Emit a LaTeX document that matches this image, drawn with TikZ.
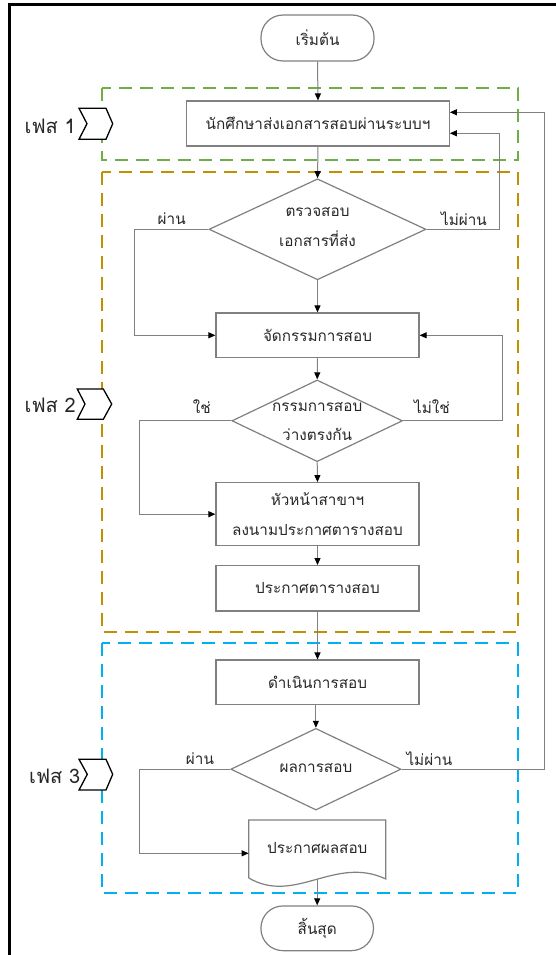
\documentclass[tikz,border=0pt]{standalone}
\usepackage{fontspec}
\newfontfamily\thai[Script=Thai]{Loma}
\usetikzlibrary{arrows.meta,shapes.geometric}
\definecolor{linegray}{RGB}{128,128,128}
\definecolor{txt}{RGB}{40,40,40}
\definecolor{phgreen}{RGB}{112,173,71}
\definecolor{phgold}{RGB}{191,144,0}
\definecolor{phblue}{RGB}{0,176,240}
\tikzset{
  base/.style={font=\thai\fontsize{15.3}{29.5}\selectfont, text=txt, align=center, inner sep=0pt},
  procbox/.style={base, draw=linegray, line width=1.2pt, rectangle},
  termbox/.style={procbox, rounded corners=22pt},
  decbox/.style={draw=linegray, line width=1.2pt, diamond, inner sep=0pt},
  conn/.style={draw=linegray, line width=1pt},
  arr/.style={conn, -{Triangle[length=7pt,width=6pt,fill=black,color=black]}},
  lbl/.style={base},
  phasebox/.style={dashed, dash pattern=on 13pt off 8pt, line width=2pt},
  chevron/.style={draw=black, fill=white, line width=1.3pt, line join=miter},
  phasetext/.style={font=\thai\fontsize{20}{22}\selectfont, text=black!85, anchor=east, inner sep=0pt}
}
\begin{document}
\begin{tikzpicture}[x=1pt,y=-1pt]
\useasboundingbox (0,0) rectangle (555,955);
\fill[white] (0,0) rectangle (555,955);
% outer frame
\draw[black, line width=3pt] (9,960) -- (9,5) -- (560,5);

% phase areas
\draw[phasebox, draw=phgreen] (102.3,88.3) rectangle (517.7,160);
\draw[phasebox, draw=phgold]  (102.3,171.7) rectangle (517.7,632.3);
\draw[phasebox, draw=phblue]  (102.3,643.3) rectangle (517.7,893.3);

% phase markers
\draw[chevron] (79,108.3) -- (106,108.3) -- (112.7,123.7) -- (106,139.3) -- (79,139.3) -- (87,123.7) -- cycle;
\draw[chevron] (77.3,389) -- (103.3,389) -- (111.7,404) -- (103.3,419.3) -- (77.3,419.3) -- (85,404) -- cycle;
\draw[chevron] (79,759.3) -- (106,759.3) -- (112.7,774.3) -- (106,790) -- (79,790) -- (87.3,774.3) -- cycle;
\node[phasetext] (ph1) at (76,126) {เฟส 1};
\node[phasetext] (ph2) at (76,405) {เฟส 2};
\node[phasetext] (ph3) at (80.5,776) {เฟส 3};

% flow nodes
\node[termbox, minimum width=113pt, minimum height=46pt] (start) at (317.5,38) {เริ่มต้น};
\node[procbox, minimum width=262.6pt, minimum height=45pt] (send) at (318,123.5) {นักศึกษาส่งเอกสารสอบผ่านระบบฯ};
\node[decbox, minimum width=217pt, minimum height=101pt] (chk) at (317.5,229.3) {};
\node[base] (chkt) at (317.5,227) {ตรวจสอบ\\เอกสารที่ส่ง};
\node[procbox, minimum width=203pt, minimum height=44.7pt] (assign) at (317.5,335.3) {จัดกรรมการสอบ};
\node[decbox, minimum width=170.6pt, minimum height=81.7pt] (free) at (317.2,420.8) {};
\node[base] (freet) at (317.2,421.7) {กรรมการสอบ\\ว่างตรงกัน};
\node[procbox, minimum width=203pt, minimum height=63pt] (sign) at (317.5,514.2) {หัวหน้าสาขาฯ\\ลงนามประกาศตารางสอบ};
\node[procbox, minimum width=203pt, minimum height=45.3pt] (sched) at (317.5,588.3) {ประกาศตารางสอบ};
\node[procbox, minimum width=203pt, minimum height=44.3pt] (run) at (317.5,682.2) {ดำเนินการสอบ};
\node[decbox, minimum width=170.2pt, minimum height=81.7pt] (res) at (315.9,769.2) {};
\node[base] (rest) at (315.9,768) {ผลการสอบ};
\node[base, minimum width=137pt, minimum height=59pt] (doc) at (317.3,849.5) {};
\draw[draw=linegray, line width=1.2pt] (248.8,878) -- (248.8,820) -- (385.8,820) -- (385.8,879)
  .. controls (335,855) and (295,905) .. (248.8,878);
\node[base] (doct) at (317.3,848) {ประกาศผลสอบ};
\node[termbox, minimum width=112.5pt, minimum height=44.7pt] (end) at (317.2,928.3) {สิ้นสุด};

% connectors
\draw[arr] (start.south) -- (send.north);
\draw[arr] (send.south) -- (chk.north);
\draw[arr] (chk.west) -- (134.3,229.3) |- (assign.west);
\draw[arr] (chk.east) -- (499,229.3) |- ([yshift=-9.8pt]send.east);
\draw[arr] (chk.south) -- (assign.north);
\draw[arr] (assign.south) -- (free.north);
\draw[arr] (free.west) -- (139.3,420.8) |- (sign.west);
\draw[arr] (free.east) -- (502.7,420.8) |- (assign.east);
\draw[arr] (free.south) -- (sign.north);
\draw[arr] (sign.south) -- (sched.north);
\draw[arr] (sched.south) -- (run.north);
\draw[arr] (run.south -| res.north) -- (res.north);
\draw[arr] (res.west) -- (139,769.2) |- ([yshift=-3.8pt]doc.west);
\draw[arr] (res.east) -- (544.3,769.2) |- ([yshift=11.2pt]send.east);
\draw[arr] (doc.south -| end.north) -- (end.north);

% branch labels
\node[lbl] (l1) at (171.7,219) {ผ่าน};
\node[lbl] (l2) at (464,219) {ไม่ผ่าน};
\node[lbl] (l3) at (201.8,406.7) {ใช่};
\node[lbl] (l4) at (432,406.7) {ไม่ใช่};
\node[lbl] (l5) at (200,758.3) {ผ่าน};
\node[lbl] (l6) at (429.4,758.3) {ไม่ผ่าน};
\end{tikzpicture}
\end{document}
